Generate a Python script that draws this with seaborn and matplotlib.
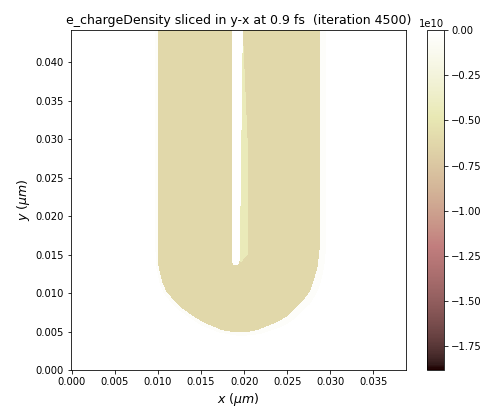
import numpy as np
import matplotlib
matplotlib.use("Agg")
import matplotlib.pyplot as plt
from matplotlib.path import Path
import seaborn as sns

# Axis ranges and ticks (micrometres)
x_limits = [-0.0001, 0.0388]
y_limits = [0.0, 0.04416]
x_ticks = [0.000, 0.005, 0.010, 0.015, 0.020, 0.025, 0.030, 0.035]
y_ticks = [0.000, 0.005, 0.010, 0.015, 0.020, 0.025, 0.030, 0.035, 0.040]
cbar_ticks = [0.0, -0.25e10, -0.5e10, -0.75e10, -1.0e10, -1.25e10, -1.5e10, -1.75e10]
density_min = -1.88e10

# Outlines: (x, y) in micrometres
target_x = [0.00995, 0.00995, 0.01007, 0.01053, 0.01100, 0.01181, 0.01274, 0.01425, 0.01541, 0.01738, 0.01860,
            0.01950, 0.02040, 0.02160, 0.02355, 0.02490, 0.02595, 0.02690, 0.02760, 0.02800, 0.02853, 0.02876, 0.02876]
target_y = [0.0442, 0.01559, 0.01338, 0.01130, 0.01013, 0.00909, 0.00805, 0.00688, 0.00610, 0.00520, 0.00494,
            0.00488, 0.00494, 0.00520, 0.00610, 0.00688, 0.00805, 0.00909, 0.01013, 0.01130, 0.01338, 0.01559, 0.0442]
halo_x = [0.0097, 0.0097, 0.0098, 0.0102, 0.0107, 0.0115, 0.0124, 0.0139, 0.0150, 0.0170, 0.0184,
          0.0195, 0.0206, 0.0220, 0.0241, 0.0255, 0.0266, 0.0276, 0.0283, 0.0288, 0.0293, 0.0295, 0.0295]
halo_y = [0.0442, 0.01559, 0.0133, 0.0112, 0.0099, 0.0088, 0.0078, 0.0066, 0.0058, 0.0049, 0.0046,
          0.0044, 0.0045, 0.0047, 0.0055, 0.0063, 0.0075, 0.0085, 0.0097, 0.0110, 0.0133, 0.0156, 0.0442]
slot_x = [0.01857, 0.01857, 0.01875, 0.01930, 0.01950, 0.01985]
slot_y = [0.0442, 0.0142, 0.01364, 0.01364, 0.0142, 0.0442]
lip_x = [0.01985, 0.01950, 0.01965, 0.0204, 0.0204]
lip_y = [0.0442, 0.0142, 0.0140, 0.0150, 0.0300]

# Mean densities of each region
target_mean = -0.62e10
halo_mean = -0.04e10
lip_mean = -0.45e10
slot_mean = -0.01e10

# Pixel grid for the heatmap
n_cols, n_rows = 335, 340
xc = x_limits[0] + (np.arange(n_cols) + 0.5) / n_cols * (x_limits[1] - x_limits[0])
yc = (np.arange(n_rows) + 0.5) / n_rows * y_limits[1]
xx, yy = np.meshgrid(xc, yc)
pts = np.column_stack([xx.ravel(), yy.ravel()])


def region(xs, ys):
    return Path(np.column_stack([xs, ys])).contains_points(pts).reshape(xx.shape)


density = np.zeros_like(xx)
density[region(halo_x, halo_y)] = halo_mean
density[region(target_x, target_y)] = target_mean
density[region(lip_x, lip_y)] = lip_mean
density[region(slot_x, slot_y)] = slot_mean

W, H = 488, 411
fig = plt.figure(figsize=(W / 72, H / 72), dpi=72)
ax = fig.add_axes([71 / W, 1 - 370 / H, 335 / W, 340 / H])
cax = fig.add_axes([427 / W, 1 - 370 / H, 17 / W, 340 / H])

sns.heatmap(density, ax=ax, cbar_ax=cax, cmap="pink", vmin=density_min, vmax=0,
            xticklabels=False, yticklabels=False, rasterized=True,
            cbar_kws={"ticks": cbar_ticks})
ax.invert_yaxis()

ax.set_xticks((np.array(x_ticks) - x_limits[0]) / (x_limits[1] - x_limits[0]) * n_cols)
ax.set_xticklabels([f"{v:.3f}" for v in x_ticks], rotation=0)
ax.set_yticks(np.array(y_ticks) / y_limits[1] * n_rows)
ax.set_yticklabels([f"{v:.3f}" for v in y_ticks], rotation=0)
for s in ax.spines.values():
    s.set_visible(True)
    s.set_linewidth(0.8)
ax.set_xlabel(r"$x\ (\mu m)$", fontsize=12.5)
ax.set_ylabel(r"$y\ (\mu m)$", fontsize=12.5)
ax.set_title("e_chargeDensity sliced in y-x at 0.9 fs  (iteration 4500)", fontsize=12.5, pad=6)

cbar = ax.collections[0].colorbar
cbar.outline.set_visible(True)
cbar.outline.set_linewidth(0.8)
cbar.outline.set_edgecolor("black")
cbar.dividers.set_visible(False)
cbar.ax.ticklabel_format(axis="y", style="sci", scilimits=(10, 10))
cbar.ax.tick_params(labelsize=10, length=3.5)

fig.savefig("out.png", dpi=72)
